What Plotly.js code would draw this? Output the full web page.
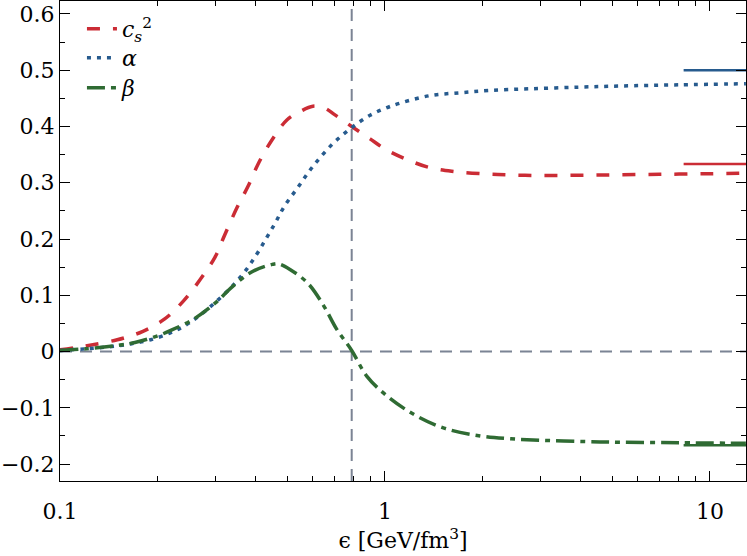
<!DOCTYPE html>
<html>
<head>
<meta charset="utf-8">
<script src="https://cdn.plot.ly/plotly-3.0.1.min.js"></script>
<style>
html,body{margin:0;padding:0;background:#fff;}
#chart{width:747px;height:556px;}
</style>
</head>
<body>
<div id="chart"></div>
<script>
// energy density grid and values
var csX = [0.1,0.12,0.15,0.18,0.21,0.24,0.27,0.30,0.32,0.35,0.38,0.41,0.45,0.5,0.55,0.6,0.65,0.7,0.79,0.9,1.0,1.15,1.37,1.63,2.0,2.4,2.9,3.5,4.2,5.0,7.0,10,12.9];
var csY = [0.003,0.010,0.021,0.036,0.058,0.090,0.128,0.168,0.205,0.255,0.295,0.337,0.377,0.412,0.427,0.436,0.433,0.421,0.400,0.378,0.360,0.343,0.327,0.320,0.316,0.314,0.313,0.313,0.3135,0.314,0.315,0.316,0.317];

var alphaX = [0.1,0.12,0.15,0.17,0.19,0.22,0.25,0.3,0.36,0.4,0.43,0.46,0.49,0.54,0.6,0.69,0.79,0.9,1.0,1.12,1.38,1.71,2.1,2.8,4.0,5.3,8.0,12.9];
var alphaY = [0.002,0.005,0.010,0.015,0.021,0.034,0.051,0.087,0.133,0.170,0.200,0.229,0.258,0.292,0.329,0.369,0.398,0.420,0.432,0.442,0.455,0.460,0.464,0.467,0.470,0.472,0.474,0.476];

var betaX = [0.1,0.12,0.15,0.17,0.2,0.22,0.26,0.3,0.34,0.39,0.45,0.47,0.51,0.58,0.65,0.71,0.79,0.88,1.02,1.23,1.52,1.97,2.44,3.17,4.2,5.2,8.0,12.9];
var betaY = [0.002,0.005,0.011,0.016,0.028,0.038,0.059,0.086,0.116,0.142,0.155,0.156,0.146,0.121,0.080,0.040,0.002,-0.044,-0.080,-0.112,-0.136,-0.150,-0.155,-0.158,-0.160,-0.161,-0.162,-0.163];

// asymptotic limits shown at high energy density
var limitX = [8.3, 13];
var csLimit = 1/3;
var alphaLimit = 1/2;
var betaLimit = -1/6;

var epsCross = 0.79;
var seriesNames = ['<i>c</i><sub><i>s</i></sub><sup>2</sup>', '<i>α</i>', '<i>β</i>'];
var xTickVals = [0.1, 1, 10];
var xTickText = ['0.1', '1', '10'];

var RED = '#cb2c35', BLUE = '#275b8e', GREEN = '#2f6b33', GREY = '#7b8494';

var traces = [
  {x: csX, y: csY, name: seriesNames[0], legend: 'legend', mode: 'lines', line: {color: RED, width: 3.5, dash: '13px,13px', shape: 'spline'}},
  {x: alphaX, y: alphaY, name: seriesNames[1], legend: 'legend2', mode: 'lines', line: {color: BLUE, width: 3.5, dash: '4px,6px', shape: 'spline'}},
  {x: betaX, y: betaY, name: seriesNames[2], legend: 'legend3', mode: 'lines', line: {color: GREEN, width: 3.5, dash: '18px,6px,5px,6px', shape: 'spline'}},
  {x: limitX, y: [alphaLimit, alphaLimit], mode: 'lines', showlegend: false, line: {color: BLUE, width: 2.5}},
  {x: limitX, y: [csLimit, csLimit], mode: 'lines', showlegend: false, line: {color: RED, width: 2.5}},
  {x: limitX, y: [betaLimit, betaLimit], mode: 'lines', showlegend: false, line: {color: GREEN, width: 2.5}}
];

var FONT = 'DejaVu Serif';
var FS = 22;

function leg(yc) {
  return {x: 0.032, y: yc, xanchor: 'left', yanchor: 'middle', bgcolor: 'rgba(0,0,0,0)', borderwidth: 0,
          font: {family: FONT, size: FS, color: '#000'}};
}

var layout = {
  width: 747, height: 556,
  margin: {l: 60, r: 1, t: 1, b: 75},
  paper_bgcolor: '#fff', plot_bgcolor: '#fff',
  font: {family: FONT, size: FS, color: '#000'},
  showlegend: true,
  legend: leg(0.9417),
  legend2: leg(0.8813),
  legend3: leg(0.8188),
  xaxis: {
    type: 'log', range: [-1, 1.111],
    tickvals: xTickVals, ticktext: xTickText,
    ticks: 'inside', ticklen: 10, tickwidth: 1, tickcolor: '#000',
    ticklabelstandoff: 10,
    showline: true, linecolor: '#000', linewidth: 1.2, mirror: 'allticks',
    showgrid: false, zeroline: false,
    minor: {ticks: 'inside', ticklen: 5, tickwidth: 1, tickcolor: '#000', dtick: 'D1', showgrid: false},
    title: {text: 'ϵ [GeV/fm<sup>3</sup>]', font: {family: FONT, size: FS}, standoff: 10},
    tickfont: {family: FONT, size: FS}
  },
  yaxis: {
    range: [-0.23, 0.623],
    dtick: 0.1, tick0: 0,
    ticks: 'inside', ticklen: 10, tickwidth: 1, tickcolor: '#000',
    showline: true, linecolor: '#000', linewidth: 1.2, mirror: 'allticks',
    showgrid: false, zeroline: false,
    minor: {ticks: 'inside', ticklen: 5, tickwidth: 1, tickcolor: '#000', dtick: 0.05, showgrid: false},
    tickformat: '.1~f',
    tickfont: {family: FONT, size: FS}
  },
  shapes: [
    {type: 'line', xref: 'x', yref: 'paper', x0: epsCross, x1: epsCross, y0: 0, y1: 1, line: {color: GREY, width: 2, dash: '12px,8px'}, layer: 'below'},
    {type: 'line', xref: 'paper', yref: 'y', x0: 0, x1: 1, y0: 0, y1: 0, line: {color: GREY, width: 2, dash: '12px,8px'}, layer: 'below'}
  ]
};

Plotly.newPlot('chart', traces, layout, {displayModeBar: false, staticPlot: true});
</script>
</body>
</html>
